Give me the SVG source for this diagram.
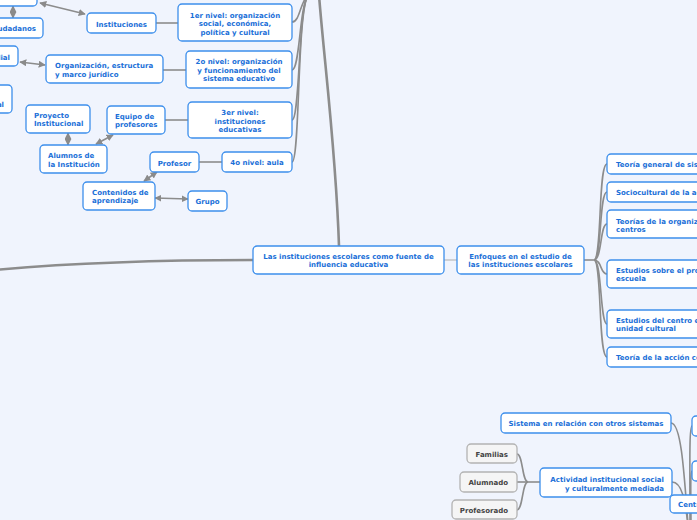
<svg xmlns="http://www.w3.org/2000/svg" width="697" height="520" viewBox="0 0 697 520">
<defs>
<marker id="ah" viewBox="0 0 10 10" refX="9" refY="5" markerWidth="7" markerHeight="7" markerUnits="userSpaceOnUse" orient="auto-start-reverse">
<path d="M0,0 L10,5 L0,10 Z" fill="#8a8a8a"/>
</marker>
<style>
.bg{fill:#f0f4fd}
.n{fill:#ffffff;stroke:#3d8fec;stroke-width:1.3}
.g{fill:#f5f5f5;stroke:#b3b3b3;stroke-width:1.3}
.t{font-family:"DejaVu Sans",Verdana,sans-serif;font-weight:bold;font-size:7px;fill:#1a6fd8}
.tg{font-family:"DejaVu Sans",Verdana,sans-serif;font-weight:bold;font-size:7px;fill:#444444}
.c{text-anchor:middle}
.e{text-anchor:end}
.l{fill:none;stroke:#8c8c8c;stroke-width:1.6}
.lt{fill:none;stroke:#8c8c8c;stroke-width:2.6}
.lf{fill:none;stroke:#adadad;stroke-width:1}
.a{fill:none;stroke:#8c8c8c;stroke-width:1.6;marker-start:url(#ah);marker-end:url(#ah)}
</style>
</defs>
<rect class="bg" x="0" y="0" width="697" height="520"/>

<g id="connectors">
<path class="lt" d="M253,260 C150,260 60,264 -5,270"/>
<path class="lt" d="M339,246 C336,150 324,60 319,-5"/>
<path class="l" d="M292,22 C300,22 300,2 308,-5"/>
<path class="l" d="M292,70 C300,70 299,8 308,-5"/>
<path class="l" d="M292,120 C300,120 298,10 308,-5"/>
<path class="l" d="M292,162 C300,162 297,12 308,-5"/>
<path class="l" d="M156,23 L178,23"/>
<path class="l" d="M163,70 L186,70"/>
<path class="l" d="M165,120 L188,120"/>
<path class="l" d="M199,162 L222,162"/>
<path class="lf" d="M444,260 L457,260"/>
<path class="l" d="M584,260 L594,260"/>
<path class="l" d="M594,260 C602,260 598,164 607,164"/>
<path class="l" d="M594,260 C602,260 599,192 607,192"/>
<path class="l" d="M594,260 C602,260 600,224 607,224"/>
<path class="l" d="M594,260 C602,260 600,274 607,274"/>
<path class="l" d="M594,260 C602,260 600,324 607,324"/>
<path class="l" d="M594,260 C602,260 598,357 607,357"/>
<path class="l" d="M540,482 L528,482"/>
<path class="l" d="M528,482 C522,482 523,454 517,454"/>
<path class="l" d="M528,482 L517,482"/>
<path class="l" d="M528,482 C522,482 523,510 517,510"/>
<path class="l" d="M671,423 C681,423 684,470 688,525"/>
<path class="l" d="M672,482 C682,482 685,500 688,525"/>
<path class="l" d="M692,426 C689,426 690,470 690,525"/>
<path class="l" d="M692,471 C690,471 691,500 691,525"/>
<path class="a" d="M40,3 L85,14"/>
<path class="a" d="M13,6 L13,18"/>
<path class="a" d="M20,62 L45,65"/>
<path class="a" d="M68,133 L68,145"/>
<path class="a" d="M113,135 L96,144"/>
<path class="a" d="M157,172 L144,181"/>
<path class="a" d="M155,198 L188,199"/>
</g>

<g id="n-top"><rect class="n" x="-30" y="-20" width="67" height="26" rx="4"/></g>
<g id="n-ciudadanos"><rect class="n" x="-30" y="18" width="73" height="20" rx="4"/><text class="t e" x="36" y="31">Ciudadanos</text></g>
<g id="n-mundial"><rect class="n" x="-30" y="46" width="48" height="20" rx="4"/><text class="t e" x="10" y="60">Mundial</text></g>
<g id="n-nacional"><rect class="n" x="-30" y="85" width="42" height="28" rx="4"/><text class="t e" x="4" y="106.5">nacional</text></g>

<g id="n-instituciones"><rect class="n" x="87" y="13" width="69" height="20" rx="4"/><text class="t c" x="121.5" y="26.5">Instituciones</text></g>
<g id="n-nivel1"><rect class="n" x="178" y="4" width="114" height="37" rx="4"/><text class="t c" x="235" y="17.5">1er nivel: organización<tspan x="235" y="26">social, económica,</tspan><tspan x="235" y="34.5">política y cultural</tspan></text></g>
<g id="n-nivel2"><rect class="n" x="186" y="51" width="106" height="37" rx="4"/><text class="t c" x="239" y="64">2o nivel: organización<tspan x="239" y="72.5">y funcionamiento del</tspan><tspan x="239" y="81">sistema educativo</tspan></text></g>
<g id="n-nivel3"><rect class="n" x="188" y="102" width="104" height="36" rx="4"/><text class="t c" x="240" y="115">3er nivel:<tspan x="240" y="123.5">instituciones</tspan><tspan x="240" y="132">educativas</tspan></text></g>
<g id="n-nivel4"><rect class="n" x="222" y="152" width="70" height="20" rx="4"/><text class="t c" x="257" y="165">4o nivel: aula</text></g>
<g id="n-organizacion"><rect class="n" x="46" y="55" width="117" height="28" rx="4"/><text class="t" x="55" y="68">Organización, estructura<tspan x="55" y="77">y marco jurídico</tspan></text></g>
<g id="n-proyecto"><rect class="n" x="26" y="105" width="64" height="28" rx="4"/><text class="t" x="34" y="118">Proyecto<tspan x="34" y="126">Institucional</tspan></text></g>
<g id="n-equipo"><rect class="n" x="107" y="106" width="58" height="28" rx="4"/><text class="t" x="115" y="119">Equipo de<tspan x="115" y="127">profesores</tspan></text></g>
<g id="n-alumnos"><rect class="n" x="40" y="145" width="67" height="28" rx="4"/><text class="t" x="48" y="158">Alumnos de<tspan x="48" y="166.5">la Institución</tspan></text></g>
<g id="n-profesor"><rect class="n" x="150" y="152" width="49" height="20" rx="4"/><text class="t c" x="174.5" y="165.5">Profesor</text></g>
<g id="n-contenidos"><rect class="n" x="83" y="182" width="72" height="28" rx="4"/><text class="t" x="92" y="195">Contenidos de<tspan x="92" y="203">aprendizaje</tspan></text></g>
<g id="n-grupo"><rect class="n" x="188" y="191" width="39" height="20" rx="4"/><text class="t c" x="207.5" y="204">Grupo</text></g>

<g id="n-central"><rect class="n" x="253" y="246" width="191" height="28" rx="4"/><text class="t c" x="348.5" y="259">Las instituciones escolares como fuente de<tspan x="348.5" y="267">influencia educativa</tspan></text></g>
<g id="n-enfoques"><rect class="n" x="457" y="246" width="127" height="28" rx="4"/><text class="t c" x="520.5" y="259">Enfoques en el estudio de<tspan x="520.5" y="267">las instituciones escolares</tspan></text></g>

<g id="n-teoria-sistemas"><rect class="n" x="607" y="154" width="160" height="20" rx="4"/><text class="t" x="616" y="167">Teoría general de sistemas</text></g>
<g id="n-sociocultural"><rect class="n" x="607" y="182" width="160" height="20" rx="4"/><text class="t" x="616" y="195">Sociocultural de la actividad</text></g>
<g id="n-teorias-org"><rect class="n" x="607" y="210" width="160" height="28" rx="4"/><text class="t" x="616" y="223.5">Teorías de la organización de<tspan x="616" y="231.5">centros</tspan></text></g>
<g id="n-estudios-pro"><rect class="n" x="607" y="260" width="160" height="28" rx="4"/><text class="t" x="616" y="273">Estudios sobre el profesorado en la<tspan x="616" y="281">escuela</tspan></text></g>
<g id="n-estudios-centro"><rect class="n" x="607" y="310" width="160" height="28" rx="4"/><text class="t" x="616" y="323">Estudios del centro escolar como<tspan x="616" y="331">unidad cultural</tspan></text></g>
<g id="n-accion"><rect class="n" x="607" y="347" width="160" height="20" rx="4"/><text class="t" x="616" y="360">Teoría de la acción comunicativa</text></g>

<g id="n-sistema"><rect class="n" x="501" y="413" width="170" height="20" rx="4"/><text class="t c" x="586" y="426">Sistema en relación con otros sistemas</text></g>
<g id="n-actividad"><rect class="n" x="540" y="468" width="132" height="29" rx="4"/><text class="t e" x="664" y="481.5">Actividad institucional social<tspan x="664" y="490.5">y culturalmente mediada</tspan></text></g>
<g id="n-centro"><rect class="n" x="670" y="495" width="80" height="18" rx="4"/><text class="t" x="678" y="506.5">Centro educativo</text></g>
<g id="n-right1"><rect class="n" x="692" y="416" width="60" height="20" rx="4"/></g>
<g id="n-right2"><rect class="n" x="692" y="461" width="60" height="20" rx="4"/></g>
<g id="n-familias"><rect class="g" x="467" y="444" width="50" height="19" rx="4"/><text class="tg e" x="508" y="457">Familias</text></g>
<g id="n-alumnado"><rect class="g" x="460" y="472" width="57" height="20" rx="4"/><text class="tg e" x="508" y="485">Alumnado</text></g>
<g id="n-profesorado"><rect class="g" x="452" y="500" width="65" height="19" rx="4"/><text class="tg e" x="508" y="512.5">Profesorado</text></g>
</svg>
